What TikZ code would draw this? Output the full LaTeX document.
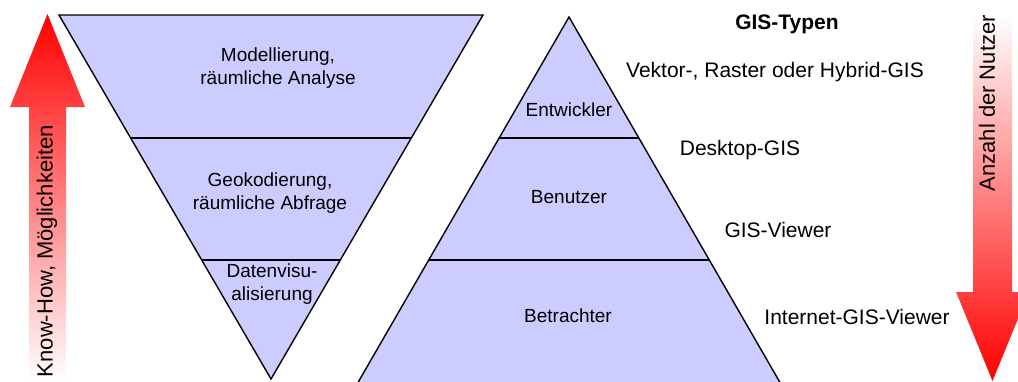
\documentclass[tikz,border=0pt]{standalone}
\usepackage{fontspec}
\setmainfont{Liberation Sans}
\usetikzlibrary{calc}
\definecolor{lav}{RGB}{204,204,255}
\begin{document}
\begin{tikzpicture}[x=1pt,y=-1pt,
  layer/.style={fill=lav, draw=black, line width=1.4pt, line join=miter},
  divider/.style={draw=black, line width=1.4pt},
  inlabel/.style={font=\fontsize{19}{22.5}\selectfont, align=center, inner sep=0pt},
  outlabel/.style={font=\fontsize{21}{24}\selectfont, inner sep=0pt},
  arrowtext/.style={font=\fontsize{22}{24}\selectfont, inner sep=0pt, rotate=90, anchor=east}]
\useasboundingbox (0,0) rectangle (1018,381);
\clip (0,0) rectangle (1018,381);
% left arrow (up)
\shade[top color=red, bottom color=white]
  (29,381) -- (29,107) -- (10,107) -- (47.5,14) -- (85,107) -- (66,107) -- (66,381) -- cycle;
\node[arrowtext] (kh) at (47,125) {Know-How, Möglichkeiten};
% right arrow (down)
\shade[top color=white, bottom color=red]
  (973,15) -- (1012,15) -- (1012,292) -- (1029,292) -- (992.5,381) -- (956,292) -- (973,292) -- cycle;
\node[arrowtext] (an) at (987,15) {Anzahl der Nutzer};
% inverted triangle
\coordinate (vtl) at (59,15);
\coordinate (vtr) at (483,15);
\coordinate (vap) at (271,379);
\filldraw[layer] (vtl) -- (vtr) -- (vap) -- cycle;
\draw[divider] ($(vtl)!0.338!(vap)$) -- ($(vtr)!0.338!(vap)$);
\draw[divider] ($(vtl)!0.673!(vap)$) -- ($(vtr)!0.673!(vap)$);
\node[inlabel] (mod) at (278,68) {Modellierung,\\räumliche Analyse};
\node[inlabel] (geo) at (270,193) {Geokodierung,\\räumliche Abfrage};
\node[inlabel] (dat) at (272,284) {Datenvisu-\\alisierung};
% upright triangle
\coordinate (uap) at (569,17);
\coordinate (ubl) at (360,379);
\coordinate (ubr) at (778,379);
\fill[lav] (uap) -- ($(uap)!1.03!(ubl)$) -- ($(uap)!1.03!(ubr)$) -- cycle;
\draw[divider] ($(uap)!1.03!(ubl)$) -- (uap) -- ($(uap)!1.03!(ubr)$);
\draw[divider] ($(uap)!0.334!(ubl)$) -- ($(uap)!0.334!(ubr)$);
\draw[divider] ($(uap)!0.671!(ubl)$) -- ($(uap)!0.671!(ubr)$);
\node[inlabel] (ent) at (569,110) {Entwickler};
\node[inlabel] (ben) at (569,197) {Benutzer};
\node[inlabel] (bet) at (568,316) {Betrachter};
% GIS types
\node[outlabel, font=\fontsize{21}{24}\selectfont\bfseries] (typ) at (787,24) {GIS-Typen};
\node[outlabel] (vek) at (775,72) {Vektor-, Raster oder Hybrid-GIS};
\node[outlabel] (des) at (740,150) {Desktop-GIS};
\node[outlabel] (vie) at (778,230) {GIS-Viewer};
\node[outlabel] (int) at (857,317) {Internet-GIS-Viewer};
\end{tikzpicture}
\end{document}
